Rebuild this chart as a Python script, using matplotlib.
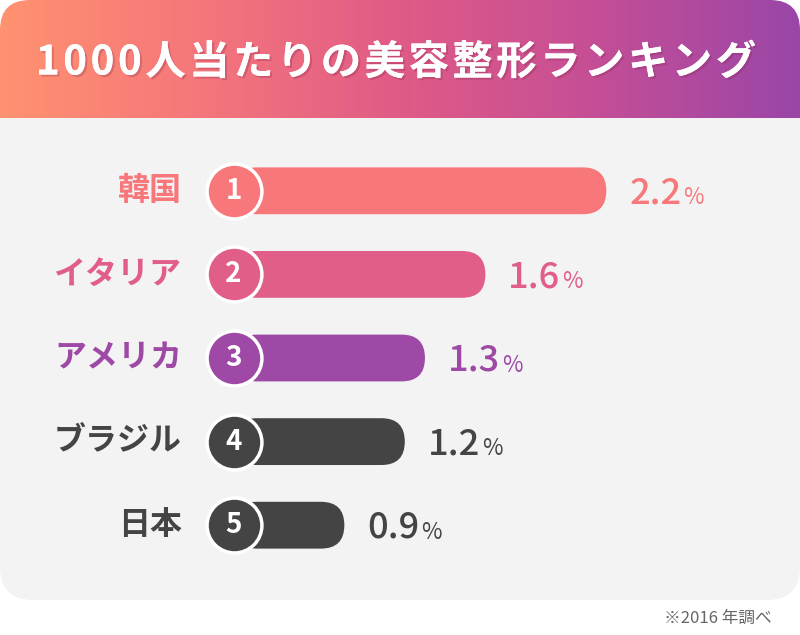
import matplotlib
matplotlib.use('Agg')
import matplotlib.pyplot as plt
import matplotlib.patheffects as pe
import numpy as np
from matplotlib.patches import FancyBboxPatch, Rectangle
from matplotlib.colors import LinearSegmentedColormap

plt.rcParams['font.family'] = ['Noto Sans CJK JP', 'DejaVu Sans']

# data
title = '1000人当たりの美容整形ランキング'
countries = ['韓国', 'イタリア', 'アメリカ', 'ブラジル', '日本']
ranks = ['1', '2', '3', '4', '5']
rates = [2.2, 1.6, 1.3, 1.2, 0.9]
colors = ['#F7777A', '#E05E87', '#9D49A5', '#444444', '#444444']
note = '※2016 年調べ'

W, H = 800, 635
fig = plt.figure(figsize=(W / 100, H / 100), dpi=100)
fig.patch.set_facecolor('white')

# background layer in pixel coordinates
bg = fig.add_axes([0, 0, 1, 1])
bg.axis('off')

# light gray body panel
bg.add_patch(FancyBboxPatch((0, 118), W, 482, boxstyle='round,pad=0,rounding_size=33',
                            fc='#F3F3F3', ec='none'))
bg.add_patch(Rectangle((0, 118), W, 50, fc='#F3F3F3', ec='none'))

# header with horizontal gradient
cmap = LinearSegmentedColormap.from_list(
    'hdr', ['#FF9270', '#F5767B', '#E05B86', '#C44E96', '#9A46A8'])
grad = np.linspace(0, 1, 256).reshape(1, -1)
im = bg.imshow(grad, cmap=cmap, extent=[0, W, 118, 0], aspect='auto', zorder=2)
clip = FancyBboxPatch((0, 0), W, 160, boxstyle='round,pad=0,rounding_size=30',
                      transform=bg.transData, fc='none', ec='none')
im.set_clip_path(clip)

bg.set_xlim(0, W)
bg.set_ylim(H, 0)

# title, drawn char by char to get the wide letter spacing
shadow = [pe.withSimplePatchShadow(offset=(1.5, -1.5), shadow_rgbFace='#7a1f45', alpha=0.25),
          pe.Normal()]
chars = [bg.text(0, 63, ch, fontsize=29, fontweight='bold', color='white',
                 ha='left', va='center', zorder=5, path_effects=shadow) for ch in title]
fig.canvas.draw()
renderer = fig.canvas.get_renderer()
widths = [t.get_window_extent(renderer).width for t in chars]
span_left, span_right = 36, 756
gap = (span_right - span_left - sum(widths)) / (len(chars) - 1)
x = span_left
for t, w in zip(chars, widths):
    t.set_x(x)
    x += w + gap

# bar area
ax = fig.add_axes([163 / W, 1 - 567 / H, 604.5 / W, 418 / H])
ax.set_xlim(0, 3)
ax.set_ylim(4.5, -0.5)
ax.axis('off')

px_x = 604.5 / 3
px_y = 418 / 5
bar_h = 0.56
start = 0.35
aspect = px_x / px_y
round_r = (bar_h / 2) / aspect

for i, (name, rk, v, c) in enumerate(zip(countries, ranks, rates, colors)):
    ax.add_patch(FancyBboxPatch((start, i - bar_h / 2), v - start, bar_h,
                                boxstyle=f'round,pad=0,rounding_size={round_r}',
                                mutation_aspect=aspect, fc=c, ec='none', zorder=2))
    ax.scatter([start], [i], s=1560, color=c, edgecolors='white', linewidths=2.5, zorder=3)
    ax.text(start, i, rk, ha='center', va='center', fontsize=20, fontweight='bold',
            color='white', zorder=4)
    ax.annotate(name, xy=(start, i), xytext=(-37, 0), textcoords='offset points',
                ha='right', va='center', fontsize=23, fontweight='bold', color=c)
    num = ax.annotate(f'{v}', xy=(v, i), xytext=(16.5, -2), textcoords='offset points',
                      ha='left', va='center', fontsize=26, fontweight='medium', color=c)
    ax.annotate('%', xy=(1, 0), xycoords=num, xytext=(1.5, 1.5), textcoords='offset points',
                ha='left', va='bottom', fontsize=16, color=c)

bg.text(772, 618, note, ha='right', va='center', fontsize=12, color='#666666')

plt.savefig('out.png', dpi=100)
